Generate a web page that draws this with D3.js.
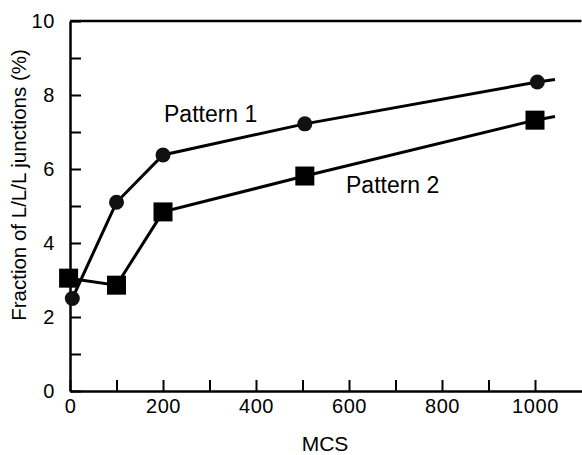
<!DOCTYPE html>
<html>
<head>
<meta charset="utf-8">
<script src="https://cdn.jsdelivr.net/npm/d3@7"></script>
<style>
  body { margin: 0; background: #fff; }
  text { font-family: "Liberation Sans", Arial, Helvetica, sans-serif; fill: #000; }
</style>
</head>
<body>
<div class="chart"></div>
<script>
  // data
  var mcs1 = [5, 100, 200, 505, 1005];
  var pattern1 = [2.5, 5.1, 6.38, 7.22, 8.35];
  var mcs2 = [-3, 100, 200, 505, 1000];
  var pattern2 = [3.05, 2.86, 4.84, 5.81, 7.32];
  // short run of line past the last point
  var tail1 = [[1005, 8.35], [1043, 8.42]];
  var tail2 = [[1000, 7.32], [1043, 7.42]];
  var yTicks = [0, 1, 2, 3, 4, 5, 6, 7, 8, 9, 10];
  var xTicks = [0, 100, 200, 300, 400, 500, 600, 700, 800, 900, 1000];

  var w = 582, h = 455;
  var plotLeft = 70, plotRight = 581.5, plotTop = 21, plotBottom = 391;

  var svg = d3.select(".chart").append("svg")
    .attr("width", w)
    .attr("height", h);

  var x = d3.scaleLinear().domain([0, 1100]).range([plotLeft, plotRight]);
  var y = d3.scaleLinear().domain([0, 10]).range([plotBottom, plotTop]);

  // top frame line
  svg.append("line")
    .attr("x1", plotLeft).attr("x2", plotRight)
    .attr("y1", plotTop).attr("y2", plotTop)
    .attr("stroke", "#000").attr("stroke-width", 2.5);

  //y轴
  var yAxis = d3.axisLeft(y)
    .tickValues(yTicks)
    .tickSize(-11)
    .tickSizeOuter(0)
    .tickPadding(15)
    .tickFormat(function(d) { return d % 2 == 0 ? d : ""; });
  var gy = svg.append("g")
    .attr("transform", "translate(" + plotLeft + ",0)")
    .call(yAxis);

  //x轴
  var xAxis = d3.axisBottom(x)
    .tickValues(xTicks)
    .tickSize(-11)
    .tickSizeOuter(0)
    .tickPadding(8)
    .tickFormat(function(d) { return d % 200 == 0 ? d : ""; });
  var gx = svg.append("g")
    .attr("transform", "translate(0," + plotBottom + ")")
    .call(xAxis);

  [gx, gy].forEach(function(g) {
    g.select(".domain").attr("stroke", "#000").attr("stroke-width", 2.5);
    g.selectAll(".tick line").attr("stroke", "#000").attr("stroke-width", 2);
    g.selectAll(".tick text")
      .style("font-size", "20px")
      .style("letter-spacing", "0.6px")
      .attr("fill", "#000");
  });
  gy.selectAll(".tick text").attr("dy", "0.3em");

  // axis titles
  svg.append("text")
    .attr("x", 325).attr("y", 451)
    .attr("text-anchor", "middle")
    .style("font-size", "21px")
    .text("MCS");

  svg.append("text")
    .attr("transform", "translate(26,185) rotate(-90)")
    .attr("text-anchor", "middle")
    .style("font-size", "20.5px")
    .text("Fraction of L/L/L junctions (%)");

  var line = d3.line()
    .x(function(d) { return x(d[0]); })
    .y(function(d) { return y(d[1]); });

  var pts1 = mcs1.map(function(m, i) { return [m, pattern1[i]]; });
  var pts2 = mcs2.map(function(m, i) { return [m, pattern2[i]]; });

  [pts1, tail1, pts2, tail2].forEach(function(p) {
    svg.append("path")
      .attr("d", line(p))
      .attr("fill", "none")
      .attr("stroke", "#000")
      .attr("stroke-width", 3);
  });

  // Pattern 1 circles
  svg.selectAll(".dot1")
    .data(pts1)
    .enter().append("circle")
    .attr("class", "dot1")
    .attr("cx", function(d) { return x(d[0]); })
    .attr("cy", function(d) { return y(d[1]); })
    .attr("r", 7.5)
    .attr("fill", "#111");

  // Pattern 2 squares
  var s = 19;
  svg.selectAll(".sq2")
    .data(pts2)
    .enter().append("rect")
    .attr("class", "sq2")
    .attr("x", function(d) { return x(d[0]) - s / 2; })
    .attr("y", function(d) { return y(d[1]) - s / 2; })
    .attr("width", s)
    .attr("height", s)
    .attr("fill", "#000");

  // labels
  svg.append("text")
    .attr("x", 164).attr("y", 122)
    .style("font-size", "23px")
    .text("Pattern 1");
  svg.append("text")
    .attr("x", 346).attr("y", 193)
    .style("font-size", "23px")
    .text("Pattern 2");
</script>
</body>
</html>
